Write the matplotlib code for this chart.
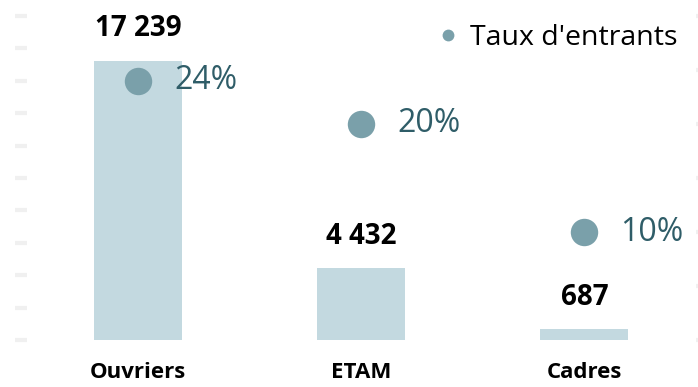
import matplotlib
matplotlib.use("Agg")
from matplotlib import pyplot as plt
from matplotlib.lines import Line2D

# effectifs et taux d'entrants par catégorie
categories = ["Ouvriers", "ETAM", "Cadres"]
effectifs = [17239, 4432, 687]
effectif_labels = ["17 239", "4 432", "687"]
taux = [24, 20, 10]

bar_color = "#c3d9e0"
dot_color = "#7aa0aa"
pct_color = "#2f5d68"
tick_color = "#f0f0f0"

plt.rcParams["font.family"] = ["Open Sans", "DejaVu Sans"]

fig = plt.figure(figsize=(6.98, 3.87), dpi=100)
ax = fig.add_axes([0.038, 0.121, 0.959, 0.838])
ax2 = ax.twinx()

x = list(range(len(categories)))
ax.bar(x, effectifs, width=0.395, color=bar_color, zorder=1)
ax.set_ylim(0, 20000)
ax.set_xlim(-0.5, 2.5)
ax.set_yticks(range(0, 20001, 2000))
ax.set_yticklabels([])
ax.tick_params(axis="y", length=9, width=3, color=tick_color)
ax.set_xticks(x)
ax.set_xticklabels(categories, fontsize=16, fontweight="bold")
ax.tick_params(axis="x", length=0, pad=16)

for xi, v, lab in zip(x, effectifs, effectif_labels):
    ax.annotate(lab, (xi, v), xytext=(0, 23), textcoords="offset points",
                ha="center", va="center", fontsize=20, fontweight="bold",
                color="black")

# taux d'entrants sur l'axe secondaire
ax2.scatter(x, taux, s=390, color=dot_color, zorder=3, linewidths=0)
ax2.set_ylim(0, 30)
ax2.set_yticks(range(0, 31, 5))
ax2.set_yticklabels([])
ax2.tick_params(axis="y", length=9, width=3, color=tick_color)
for xi, t in zip(x, taux):
    ax2.annotate(f"{t}%", (xi, t), xytext=(26, 0), textcoords="offset points",
                 ha="left", va="center", fontsize=23, color=pct_color)

for a in (ax, ax2):
    for s in a.spines.values():
        s.set_visible(False)

handle = Line2D([], [], marker="o", linestyle="none", markersize=8.5,
                markerfacecolor=dot_color, markeredgewidth=0)
ax2.legend([handle], ["Taux d'entrants"], loc="upper right",
           bbox_to_anchor=(0.99, 1.01), frameon=False, fontsize=20.5,
           handletextpad=0.3, borderaxespad=0, handlelength=1.0)

fig.savefig("out.png", dpi=100)
